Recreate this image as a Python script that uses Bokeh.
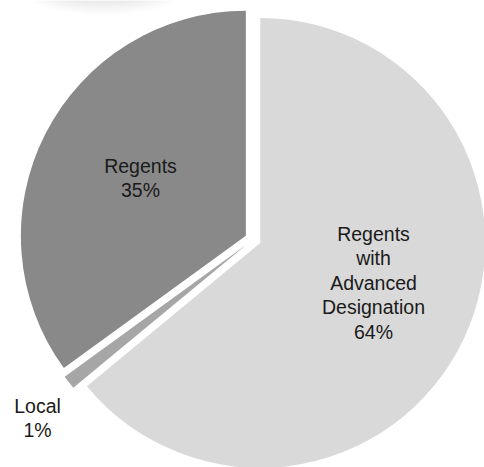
import numpy as np
from bokeh.plotting import figure
from bokeh.models import Range1d, ColumnDataSource
from bokeh.core.properties import value
from bokeh.embed import file_html
from bokeh.resources import INLINE

# Data
categories = ["Regents with Advanced Designation", "Local", "Regents"]
shares = [64, 1, 35]
label_texts = ["Regents\nwith\nAdvanced\nDesignation\n64%", "Local\n1%", "Regents\n35%"]
colors = ["#d9d9d9", "#a6a6a6", "#898989"]

W, H = 484, 467
p = figure(width=W, height=H, output_backend="svg", toolbar_location=None,
           x_range=Range1d(0, W), y_range=Range1d(0, H), min_border=0)
p.axis.visible = False
p.grid.visible = False
p.outline_line_color = None
p.background_fill_color = "white"
p.border_fill_color = "white"

# soft shadow at top-left
for i in range(8):
    p.ellipse(x=[103], y=[H + 6], width=[150 - 10 * i], height=[40 - 4 * i],
              fill_color="#000000", fill_alpha=0.012, line_color=None)

cx, cy, r, d = 252.5, 228.0, 225.0, 8.0
frac = np.array(shares, dtype=float) / sum(shares)
ends = np.cumsum(frac) * 2 * np.pi
starts = ends - frac * 2 * np.pi
mids = (starts + ends) / 2
# clockwise from top -> standard angle
xs = cx + d * np.sin(mids)
ys = cy + d * np.cos(mids)
src = ColumnDataSource(dict(x=xs, y=ys, start=np.pi / 2 - starts, end=np.pi / 2 - ends,
                            color=colors, cat=categories))
p.wedge(x="x", y="y", radius=r, start_angle="start", end_angle="end", direction="clock",
        fill_color="color", line_color=None, source=src)

# labels (screen-centre positions converted to data coords)
label_pos = [(373, H - 282), (37, H - 417.5), (140, H - 177.5)]
for (lx, ly), t in zip(label_pos, label_texts):
    lines = t.split("\n")
    n = len(lines)
    lh = 24.5
    yy = [ly + (n - 1) / 2 * lh - k * lh for k in range(n)]
    p.text(x=[lx] * n, y=yy, text=lines, text_align="center", text_baseline="middle",
           text_font=value("Liberation Sans"), text_font_size="19.5px", text_color="#1a1a1a")

open("out.html", "w").write(file_html(p, INLINE))
